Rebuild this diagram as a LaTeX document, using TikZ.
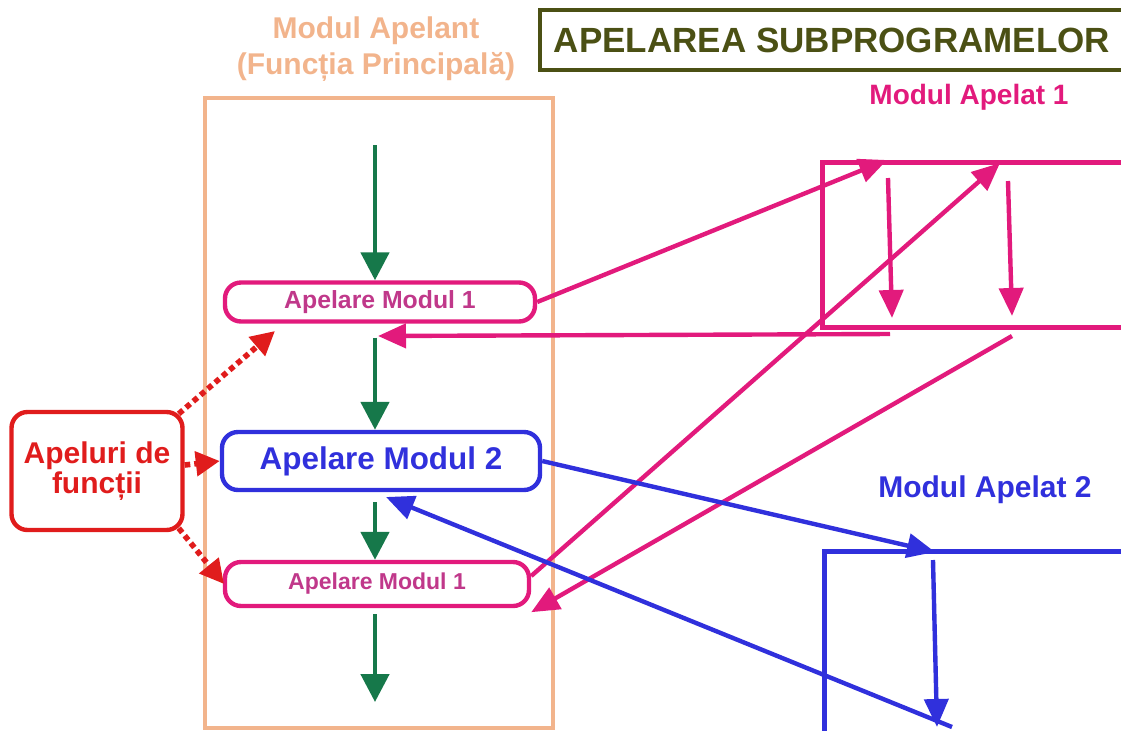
\documentclass[tikz,border=0pt]{standalone}
\usepackage{fontspec}
\setmainfont{Liberation Sans}
\usetikzlibrary{arrows.meta,positioning}

\definecolor{olivecol}{HTML}{4B5014}
\definecolor{peachcol}{HTML}{F2B48C}
\definecolor{magcol}{HTML}{E21A7C}
\definecolor{magtext}{HTML}{C0388A}
\definecolor{bluecol}{HTML}{3030DC}
\definecolor{greencol}{HTML}{16784A}
\definecolor{redcol}{HTML}{E01C1C}

\newcommand{\fsz}[1]{\bfseries\fontsize{#1}{#1}\selectfont}

\tikzset{
	callbox/.style={draw, line width=2.2pt, rounded corners=8pt, inner sep=0pt},
	modbox/.style={draw, line width=2.4pt, inner sep=0pt},
	flow/.style={greencol, line width=2.4pt, -{Triangle[length=14pt,width=14pt]}},
	link/.style={line width=2.2pt, -{Triangle[length=14pt,width=12pt]}},
	hint/.style={redcol, line width=2.8pt, dotted, -{Triangle[length=12pt,width=12pt]}}
}

\begin{document}
\begin{tikzpicture}[x=0.5pt,y=-0.5pt]
	\useasboundingbox (0,0) rectangle (1121,730);
	
	% titlu
	\node[draw=olivecol, line width=2.2pt, minimum width=292pt, minimum height=30pt, text=olivecol, font=\fsz{17.5}] (titlu) at (832,40) {APELAREA SUBPROGRAMELOR};
	
	\node[text=peachcol, font=\fsz{15}, align=center] (apelant) at (376,49) {Modul Apelant\\[3pt](Funcția Principală)};
	
	% modulul apelant
	\node[modbox, draw=peachcol, minimum width=174pt, minimum height=315pt] (main) at (379,413) {};
	
	\node[callbox, draw=magcol, text=magtext, minimum width=155pt, minimum height=19.5pt, font=\fsz{12.4}] (apel1) at (380,302) {Apelare Modul 1};
	\node[callbox, draw=bluecol, text=bluecol, minimum width=159pt, minimum height=29pt, font=\fsz{15.7}] (apel2) at (381,461) {Apelare Modul 2};
	\node[callbox, draw=magcol, text=magtext, minimum width=152pt, minimum height=22pt, font=\fsz{11.5}] (apel3) at (377,584) {Apelare Modul 1};
	
	\coordinate (f0) at (375,145);
	\coordinate (f1) at (375,702);
	\draw[flow] (f0) -- (apel1.north -| f0);
	\draw[flow] (apel1.south -| f0) ++(0,14) -- (apel2.north -| f0);
	\draw[flow] (apel2.south -| f0) ++(0,10) -- (apel3.north -| f0);
	\draw[flow] (apel3.south -| f0) ++(0,6) -- (f1);
	
	% apeluri
	\node[callbox, draw=redcol, text=redcol, minimum width=85.5pt, minimum height=59pt, font=\fsz{15}, align=center] (apeluri) at (97,471) {Apeluri de\\funcții};
	\draw[hint] (apeluri.north east) ++(-6,4) -- (275,331);
	\draw[hint] (apeluri.east) ++(0,-6) -- (apel2.west);
	\draw[hint] (apeluri.south east) ++(-6,-4) -- (224,584);
	
	% modul apelat 1
	\node[text=magcol, font=\fsz{14}] (lbl1) at (969,97) {Modul Apelat 1};
	\node[modbox, draw=magcol, minimum width=152pt, minimum height=82.5pt, anchor=north west] (mod1) at (820,160) {};
	\coordinate (m1a) at (887,160);
	\coordinate (m1b) at (1000,163);
	\draw[link, magcol] (apel1.east) -- (m1a);
	\draw[link, magcol] (apel3.east) ++(0,-8) -- (m1b);
	\draw[link, magcol] (888,178) -- (892,318);
	\draw[link, magcol] (1008,181) -- (1012,316);
	\coordinate (r1) at (890,334);
	\coordinate (r2) at (1012,336);
	\draw[link, magcol] (r1) -- (378,336);
	\draw[link, magcol] (r2) -- ([yshift=-2pt]apel3.south east);
	
	% modul apelat 2
	\node[text=bluecol, font=\fsz{15}] (lbl2) at (985,490) {Modul Apelat 2};
	\node[modbox, draw=bluecol, minimum width=152pt, minimum height=95pt, anchor=north west] (mod2) at (822,549) {};
	\coordinate (m2a) at (935,552);
	\coordinate (m2b) at (952,727);
	\draw[link, bluecol] (apel2.east) -- (m2a);
	\draw[link, bluecol] (933,560) -- (937,727);
	\draw[link, bluecol] (m2b) -- (386,497);
\end{tikzpicture}
\end{document}
